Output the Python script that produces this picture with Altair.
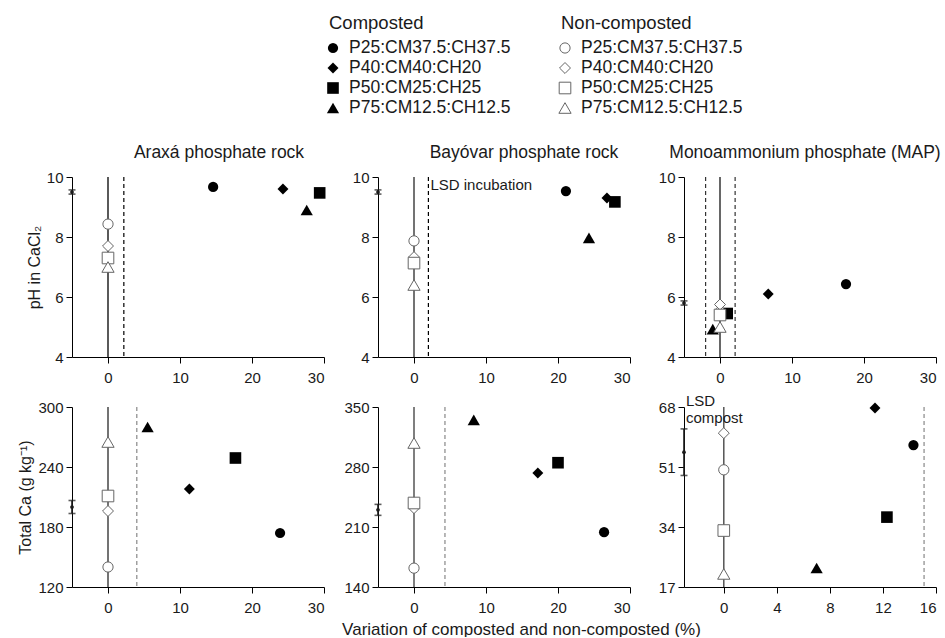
import altair as alt
import pandas as pd

FONT = "Liberation Sans"
INK = "#1a1a1a"

groups = ["P25:CM37.5:CH37.5", "P40:CM40:CH20", "P50:CM25:CH25", "P75:CM12.5:CH12.5"]
shapes = ["circle", "diamond", "square", "triangle-up"]
sizes = [105, 150, 82, 130]
legend_cols = ["Composted", "Non-composted"]

# ---- values ----
arx_ph_comp_x = [14.6, 24.3, 29.4, 27.6]
arx_ph_comp_y = [9.67, 9.60, 9.47, 8.90]
arx_ph_non_y = [8.43, 7.70, 7.30, 7.00]

bay_ph_comp_x = [21.1, 26.8, 27.9, 24.3]
bay_ph_comp_y = [9.53, 9.30, 9.17, 7.97]
bay_ph_non_y = [7.87, 7.33, 7.13, 6.40]

map_ph_comp_x = [17.5, 6.7, 1.0, -1.0]
map_ph_comp_y = [6.43, 6.10, 5.45, 4.93]
map_ph_non_y = [5.50, 5.75, 5.40, 5.00]

arx_ca_comp_x = [23.9, 11.3, 17.7, 5.5]
arx_ca_comp_y = [174, 218, 249, 280]
arx_ca_non_y = [140, 196, 211, 265]

bay_ca_comp_x = [26.4, 17.2, 20.0, 8.3]
bay_ca_comp_y = [204, 273, 285, 335]
bay_ca_non_y = [162, 232, 238, 308]

map_ca_comp_x = [14.3, 11.4, 12.3, 7.0]
map_ca_comp_y = [57.2, 67.7, 36.8, 22.4]
map_ca_non_y = [50.2, 60.6, 33.0, 20.7]

lsd_lines = [[2.2], [2.0], [-2.0, 2.1], [4.0], [4.3], [15.1]]
axis_lsd_center = [9.5, 9.5, 5.8, 200, 230, 55.2]
axis_lsd_half = [0.07, 0.07, 0.07, 6.5, 6.4, 6.6]

ph_ticks = [4, 6, 8, 10]
ca1_ticks = [120, 180, 240, 300]
ca2_ticks = [140, 210, 280, 350]
ca3_ticks = [17, 34, 51, 68]
x_ticks = [0, 10, 20, 30]
x3_ticks = [0, 4, 8, 12, 16]

PW, PH = 252, 180


def make_panel(comp_x, comp_y, non_y, xdom, xticks, ydom, yticks, dashes,
               dash_color, zero_color, zero_width, lsd_c, lsd_h,
               ytitle=None, xtitle=None, note=None):
    xs = alt.Scale(domain=xdom, nice=False, zero=False)
    ys = alt.Scale(domain=ydom, nice=False, zero=False)
    if xtitle:
        xa = alt.Axis(values=xticks, title=xtitle, titleX=143, titlePadding=6, titleFontSize=17)
    else:
        xa = alt.Axis(values=xticks, title=None)
    ya = alt.Axis(values=yticks, title=ytitle) if ytitle else alt.Axis(values=yticks, title=None)

    def X(f):
        return alt.X(f, type="quantitative", scale=xs, axis=xa)

    def Y(f):
        return alt.Y(f, type="quantitative", scale=ys, axis=ya)

    shape = alt.Shape("group:N", scale=alt.Scale(domain=groups, range=shapes), legend=None)
    size = alt.Size("group:O", scale=alt.Scale(domain=groups, range=sizes), legend=None)

    comp = pd.DataFrame({"x": comp_x, "y": comp_y, "group": groups})
    non = pd.DataFrame({"x": [0] * 4, "y": non_y, "group": groups})
    zero = pd.DataFrame({"x": [0]})
    dash = pd.DataFrame({"x": dashes})
    lsd = pd.DataFrame({"x": [xdom[0]], "c": [lsd_c], "lo": [lsd_c - lsd_h], "hi": [lsd_c + lsd_h]})

    layers = [
        alt.Chart(zero).mark_rule(color=zero_color, strokeWidth=zero_width).encode(x=X("x")),
        alt.Chart(dash).mark_rule(color=dash_color, strokeWidth=1.2, strokeDash=[4, 3]).encode(x=X("x")),
        alt.Chart(lsd).mark_rule(color=INK, strokeWidth=1.6).encode(x=X("x"), y=Y("lo"), y2="hi"),
        alt.Chart(lsd).mark_tick(color=INK, orient="horizontal", size=7, thickness=1.6).encode(x=X("x"), y=Y("lo")),
        alt.Chart(lsd).mark_tick(color=INK, orient="horizontal", size=7, thickness=1.6).encode(x=X("x"), y=Y("hi")),
        alt.Chart(lsd).mark_point(filled=True, color=INK, size=14, opacity=1).encode(x=X("x"), y=Y("c")),
        alt.Chart(comp).mark_point(filled=True, color="black", opacity=1).encode(
            x=X("x"), y=Y("y"), shape=shape, size=size),
        alt.Chart(non).mark_point(filled=True, fill="white", stroke="#666", strokeWidth=1, opacity=1).encode(
            x=X("x"), y=Y("y"), shape=shape, size=size),
    ]
    if note is not None:
        nd = pd.DataFrame({"x": [note[0]], "y": [note[1]], "t": [note[2]]})
        layers.append(
            alt.Chart(nd).mark_text(align="left", baseline="middle", fontSize=15, font=FONT,
                                    color=INK, lineBreak="\n", lineHeight=17, dx=2).encode(
                x=X("x"), y=Y("y"), text="t:N"))
    return alt.layer(*layers)


def titled(ch, title, dx):
    return ch.properties(width=PW, height=PH,
                         title=alt.TitleParams(title, fontSize=17.5, fontWeight="normal", font=FONT,
                                               color=INK, offset=9, dx=dx))


# ---- legend built from the group names (drawn above the top row, anchored to the
#      bottom-middle panel so that no panel title gets pushed upward) ----
leg_items = pd.DataFrame({
    "col": [legend_cols[0]] * 4 + [legend_cols[1]] * 4,
    "row": [1, 2, 3, 4] * 2,
    "group": groups * 2,
})
leg_head = pd.DataFrame({"col": legend_cols, "row": [-0.25, -0.25]})
lx = alt.X("col:N", scale=alt.Scale(type="point", domain=legend_cols, range=[-45, 187], padding=0), axis=None)
ly = alt.Y("row:Q", scale=alt.Scale(domain=[1, 4], range=[-359, -299]), axis=None)
lshape = alt.Shape("group:N", scale=alt.Scale(domain=groups, range=shapes), legend=None)
lsize = alt.Size("group:O", scale=alt.Scale(domain=groups, range=sizes), legend=None)

leg = alt.layer(
    alt.Chart(leg_items).transform_filter(alt.datum.col == legend_cols[0]).mark_point(
        filled=True, color="black", opacity=1).encode(x=lx, y=ly, shape=lshape, size=lsize),
    alt.Chart(leg_items).transform_filter(alt.datum.col == legend_cols[1]).mark_point(
        filled=True, fill="white", stroke="#666", strokeWidth=1, opacity=1).encode(x=lx, y=ly, shape=lshape, size=lsize),
    alt.Chart(leg_items).mark_text(align="left", baseline="middle", dx=16, fontSize=17.5, font=FONT,
                                   color=INK).encode(x=lx, y=ly, text="group:N"),
    alt.Chart(leg_head).mark_text(align="left", baseline="middle", dx=-4, fontSize=18.5, font=FONT,
                                  color=INK).encode(x=lx, y=ly, text="col:N"),
)

p1 = titled(make_panel(arx_ph_comp_x, arx_ph_comp_y, arx_ph_non_y, [-5, 30], x_ticks, [4, 10], ph_ticks,
                       lsd_lines[0], "black", "black", 1.3, axis_lsd_center[0], axis_lsd_half[0],
                       ytitle="pH in CaCl₂"), "Araxá phosphate rock", 21)
p2 = titled(make_panel(bay_ph_comp_x, bay_ph_comp_y, bay_ph_non_y, [-5, 30], x_ticks, [4, 10], ph_ticks,
                       lsd_lines[1], "black", "#444", 1.5, axis_lsd_center[1], axis_lsd_half[1],
                       note=(2.0, 9.73, "LSD incubation")), "Bayóvar phosphate rock", 20)
p3 = titled(make_panel(map_ph_comp_x, map_ph_comp_y, map_ph_non_y, [-5, 30], x_ticks, [4, 10], ph_ticks,
                       lsd_lines[2], "#333", "black", 1.2, axis_lsd_center[2], axis_lsd_half[2]),
            "Monoammonium phosphate (MAP)", -5)
p4 = make_panel(arx_ca_comp_x, arx_ca_comp_y, arx_ca_non_y, [-5, 30], x_ticks, [120, 300], ca1_ticks,
                lsd_lines[3], "#888", "#444", 1.5, axis_lsd_center[3], axis_lsd_half[3],
                ytitle="Total Ca (g kg⁻¹)").properties(width=PW, height=PH)
p5_core = make_panel(bay_ca_comp_x, bay_ca_comp_y, bay_ca_non_y, [-5, 30], x_ticks, [140, 350], ca2_ticks,
                     lsd_lines[4], "#888", "#555", 1.5, axis_lsd_center[4], axis_lsd_half[4],
                     xtitle="Variation of composted and non-composted (%)")
p5 = alt.layer(p5_core, leg).resolve_scale(x="independent", y="independent").properties(width=PW, height=PH)
p6 = make_panel(map_ca_comp_x, map_ca_comp_y, map_ca_non_y, [-3, 16], x3_ticks, [17, 68], ca3_ticks,
                lsd_lines[5], "#888", "#555", 1.5, axis_lsd_center[5], axis_lsd_half[5],
                note=(-3.0, 69.6, "LSD\ncompost")).properties(width=PW, height=PH)

chart = alt.concat(p1, p2, p3, p4, p5, p6, columns=3,
                   spacing={"row": 50, "column": 54}, bounds="flush").properties(
    padding={"left": 17, "top": 14, "right": 0, "bottom": 0},
    background="white",
).configure_view(stroke=None).configure_axis(
    grid=False, domainColor="black", domainWidth=1, tickColor="black", tickSize=6, tickWidth=1,
    labelFont=FONT, labelFontSize=15, labelColor=INK,
    titleFont=FONT, titleFontSize=16, titleFontWeight="normal", titleColor=INK, titlePadding=4,
).configure_axisX(labelPadding=7).configure_axisY(labelPadding=3)

chart.save("out.html", embed_options={"renderer": "svg", "actions": False})
